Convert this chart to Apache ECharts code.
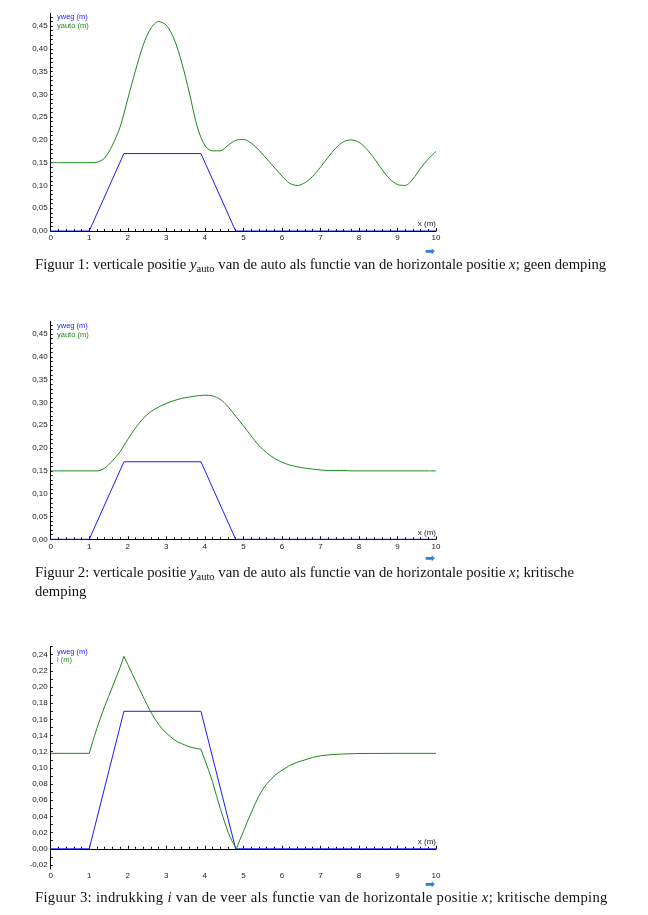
<!DOCTYPE html>
<html>
<head>
<meta charset="utf-8">
<script src="https://cdn.jsdelivr.net/npm/echarts@6.0.0/dist/echarts.min.js"></script>
<style>
  body { margin: 0; background: #fff; width: 648px; height: 915px; position: relative; overflow: hidden; }
  .chart { position: absolute; left: 0; width: 648px; }
  .cap { position: absolute; left: 35px; font-family: "Liberation Serif", "DejaVu Serif", serif; font-size: 14.7px; line-height: 19px; color: #111; white-space: nowrap; }
  .cap sub { font-size: 10.5px; vertical-align: -3px; line-height: 0; }
  .arrow { position: absolute; left: 425px; font-family: "DejaVu Sans", sans-serif; font-size: 12px; color: #2f7fd6; line-height: 12px; }
</style>
</head>
<body>
<div id="chart1" class="chart" style="top:0;height:250px"></div>
<div class="arrow" style="top:245px">➡</div>
<div class="cap" style="top:255px">Figuur 1: verticale positie <i>y</i><sub>auto</sub> van de auto als functie van de horizontale positie <i>x</i>; geen demping</div>

<div id="chart2" class="chart" style="top:310px;height:250px"></div>
<div class="arrow" style="top:552px">➡</div>
<div class="cap" style="top:563px">Figuur 2: verticale positie <i>y</i><sub>auto</sub> van de auto als functie van de horizontale positie <i>x</i>; kritische<br>demping</div>

<div id="chart3" class="chart" style="top:640px;height:240px"></div>
<div class="arrow" style="top:878px">➡</div>
<div class="cap" style="top:888px;letter-spacing:0.3px">Figuur 3: indrukking <i>i</i> van de veer als functie van de horizontale positie <i>x</i>; kritische demping</div>

<script>
// weg (wegdek) profiel, gelijk voor alle figuren
var wegX = [0, 1.0, 1.9, 3.9, 4.8, 10];
var wegY = [0, 0, 0.17, 0.17, 0, 0];

// x-waarden voor figuur 1 en 2 (stap 0,2 m)
var autoX = [0, 0.2, 0.4, 0.6, 0.8, 1.0, 1.2, 1.4, 1.6, 1.8,
    2.0, 2.2, 2.4, 2.6, 2.8, 3.0, 3.2, 3.4, 3.6, 3.8,
    4.0, 4.2, 4.4, 4.6, 4.8, 5.0, 5.2, 5.4, 5.6, 5.8,
    6.0, 6.2, 6.4, 6.6, 6.8, 7.0, 7.2, 7.4, 7.6, 7.8,
    8.0, 8.2, 8.4, 8.6, 8.8, 9.0, 9.2, 9.4, 9.6, 9.8, 10.0];

// figuur 1: geen demping
var autoY1 = [0.150, 0.150, 0.150, 0.150, 0.150, 0.150, 0.151, 0.160, 0.188, 0.228,
    0.290, 0.352, 0.408, 0.445, 0.460, 0.452, 0.422, 0.370, 0.303, 0.230,
    0.188, 0.176, 0.176, 0.188, 0.199, 0.201, 0.193, 0.178, 0.159, 0.140,
    0.121, 0.105, 0.100, 0.106, 0.120, 0.140, 0.162, 0.182, 0.196, 0.200,
    0.195, 0.180, 0.159, 0.135, 0.114, 0.102, 0.100, 0.114, 0.138, 0.158, 0.175];

// figuur 2: kritische demping
var autoY2 = [0.150, 0.150, 0.150, 0.150, 0.150, 0.150, 0.150, 0.156, 0.172, 0.192,
    0.219, 0.244, 0.265, 0.280, 0.290, 0.298, 0.304, 0.309, 0.312, 0.3145,
    0.316, 0.3145, 0.307, 0.291, 0.270, 0.249, 0.227, 0.206, 0.190, 0.178,
    0.169, 0.163, 0.159, 0.156, 0.154, 0.152, 0.151, 0.151, 0.151, 0.150,
    0.150, 0.150, 0.150, 0.150, 0.150, 0.150, 0.150, 0.150, 0.150, 0.150, 0.150];

// figuur 3: indrukking van de veer
var veerX = [0, 0.5, 1.0,
    1.1, 1.2, 1.3, 1.4, 1.5, 1.6, 1.7, 1.8, 1.9,
    2.0, 2.1, 2.2, 2.3, 2.4, 2.5, 2.6, 2.7, 2.8, 2.9,
    3.0, 3.1, 3.2, 3.3, 3.4, 3.5, 3.6, 3.7, 3.8, 3.9,
    4.0, 4.1, 4.2, 4.3, 4.4, 4.5, 4.6, 4.7, 4.82,
    4.9, 5.0, 5.1, 5.2, 5.3, 5.4, 5.5, 5.6, 5.7, 5.8, 5.9,
    6.0, 6.2, 6.4, 6.6, 6.8, 7.0, 7.3, 7.6, 8.0, 9.0, 10.0];
var veerY = [0.118, 0.118, 0.118,
    0.134, 0.149, 0.163, 0.176, 0.188, 0.200, 0.212, 0.224, 0.238,
    0.228, 0.218, 0.208, 0.198, 0.188, 0.178, 0.169, 0.161, 0.154, 0.148,
    0.143, 0.139, 0.135, 0.132, 0.130, 0.128, 0.126, 0.125, 0.124, 0.123,
    0.110, 0.097, 0.083, 0.066, 0.050, 0.035, 0.021, 0.010, 0.000,
    0.010, 0.021, 0.033, 0.044, 0.055, 0.065, 0.073, 0.080, 0.085, 0.090, 0.094,
    0.097, 0.103, 0.107, 0.110, 0.113, 0.115, 0.1165, 0.1172, 0.1178, 0.118, 0.118];

// aslabels
var yLabels12 = [0, 0.05, 0.10, 0.15, 0.20, 0.25, 0.30, 0.35, 0.40, 0.45];
var yLabels3 = [-0.02, 0, 0.02, 0.04, 0.06, 0.08, 0.10, 0.12, 0.14, 0.16, 0.18, 0.20, 0.22, 0.24];

var BLAUW = '#1a1aff';
var GROEN = '#1b8a1b';

function pairs(xs, ys) {
    var out = [];
    for (var i = 0; i < xs.length; i++) {
        out.push([xs[i], ys[i]]);
    }
    return out;
}

// kleine streepjes op de y-as, elke 0,01
function tickRange(lo, hi, step) {
    var out = [];
    var n = Math.round((hi - lo) / step);
    for (var i = 0; i <= n; i++) {
        out.push(Math.round((lo + i * step) * 1000) / 1000);
    }
    return out;
}

function komma(v) {
    return v.toFixed(2).replace('.', ',');
}

function drawChart(id, cfg) {
    var chart = echarts.init(document.getElementById(id), null, {renderer: 'canvas'});
    var axisStyle = {lineStyle: {color: '#000', width: 1}};
    var option = {
        animation: false,
        grid: {left: 50.7, right: 212, top: cfg.top, bottom: cfg.bottom},
        legend: {
            orient: 'vertical',
            left: 52,
            top: cfg.legendTop,
            itemWidth: 0,
            itemHeight: 0,
            itemGap: 0,
            padding: 0,
            selectedMode: false,
            textStyle: {fontSize: 7.5, lineHeight: 8.5, fontFamily: 'Liberation Sans', padding: 0},
            data: [
                {name: 'yweg (m)', icon: 'none', textStyle: {color: BLAUW}},
                {name: cfg.name, icon: 'none', textStyle: {color: GROEN}}
            ]
        },
        xAxis: {
            type: 'value',
            min: 0,
            max: 10,
            interval: 1,
            name: 'x (m)',
            nameLocation: 'end',
            nameGap: 0,
            nameTextStyle: {
                fontSize: 8, fontFamily: 'Liberation Sans', color: '#222',
                align: 'right', verticalAlign: 'bottom', padding: [0, 0, 3, 0]
            },
            axisLine: axisStyle,
            axisTick: {inside: true, length: 3, lineStyle: {color: '#000'}},
            minorTick: {show: true, splitNumber: 5, length: 2, lineStyle: {color: '#000'}},
            splitLine: {show: false},
            axisLabel: {fontSize: 8, fontFamily: 'Liberation Sans', color: '#222', margin: 3}
        },
        yAxis: {
            type: 'value',
            min: cfg.min,
            max: cfg.max,
            axisLine: {onZero: false, lineStyle: {color: '#000', width: 1}},
            axisTick: {inside: true, length: 2, customValues: cfg.ticks, lineStyle: {color: '#000'}},
            splitLine: {show: false},
            axisLabel: {
                fontSize: 8, fontFamily: 'Liberation Sans', color: '#222', margin: 3,
                customValues: cfg.labels,
                formatter: komma
            }
        },
        series: [{
            name: 'yweg (m)',
            type: 'line',
            symbol: 'none',
            z: 3,
            lineStyle: {width: 1, color: BLAUW},
            itemStyle: {color: BLAUW},
            data: pairs(wegX, wegY)
        }, {
            name: cfg.name,
            type: 'line',
            symbol: 'none',
            smooth: cfg.smooth,
            z: 4,
            lineStyle: {width: 1, color: GROEN},
            itemStyle: {color: GROEN},
            data: pairs(cfg.xs, cfg.ys)
        }]
    };
    chart.setOption(option);
    return chart;
}

drawChart('chart1', {
    top: 13.3, bottom: 19, legendTop: 13, min: 0, max: 0.478,
    labels: yLabels12, ticks: tickRange(0, 0.47, 0.01),
    name: 'yauto (m)', xs: autoX, ys: autoY1, smooth: 0.3
});
drawChart('chart2', {
    top: 11.3, bottom: 20.7, legendTop: 12, min: 0, max: 0.478,
    labels: yLabels12, ticks: tickRange(0, 0.47, 0.01),
    name: 'yauto (m)', xs: autoX, ys: autoY2, smooth: 0.3
});
drawChart('chart3', {
    top: 6.6, bottom: 10.4, legendTop: 7.5, min: -0.025, max: 0.25,
    labels: yLabels3, ticks: tickRange(-0.02, 0.25, 0.01),
    name: 'i (m)', xs: veerX, ys: veerY, smooth: false
});
</script>
</body>
</html>
